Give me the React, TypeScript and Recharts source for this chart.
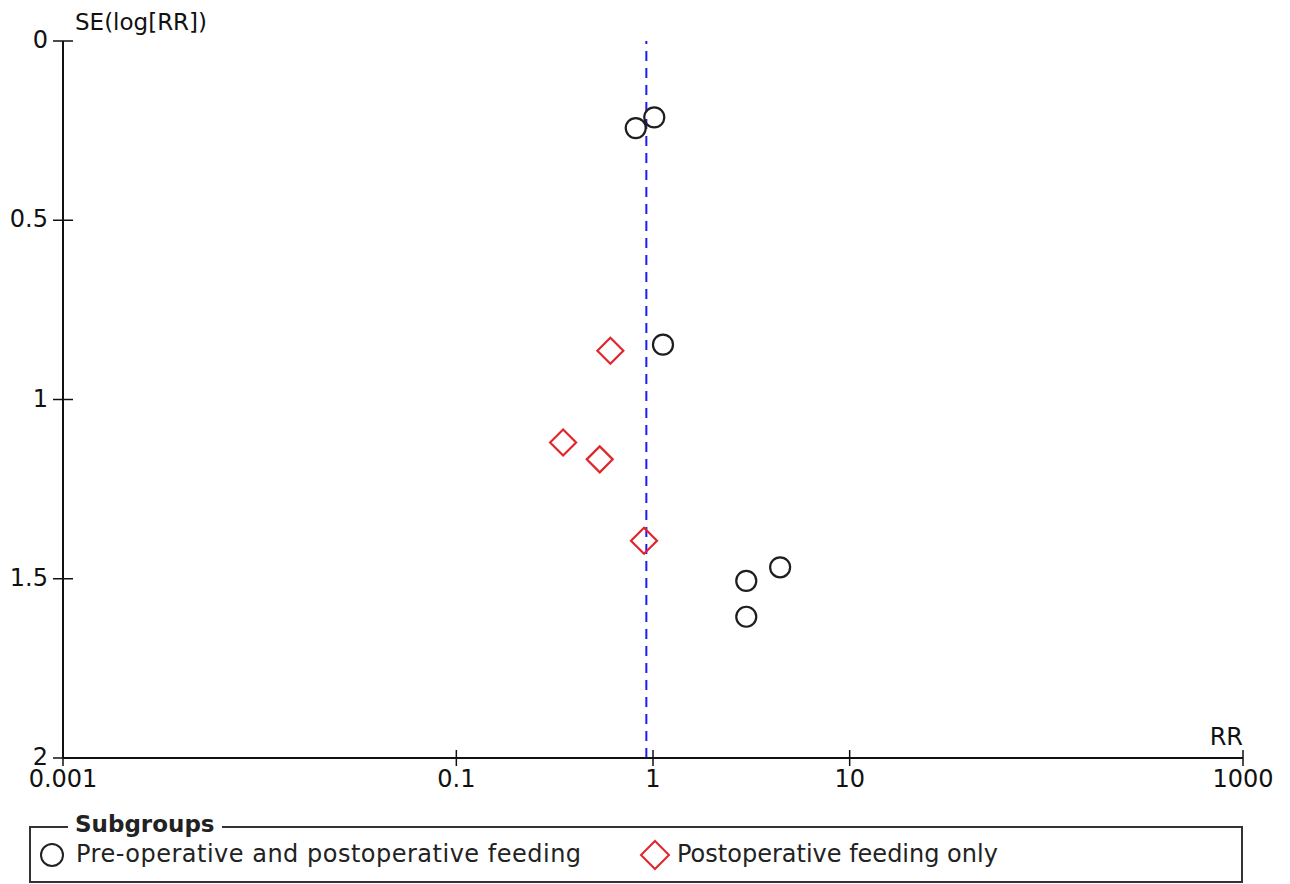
import React from "react";
import { ScatterChart, Scatter, XAxis, YAxis, ReferenceLine } from "recharts";

const FONT = '"DejaVu Sans", Verdana, sans-serif';

// Funnel plot data: risk ratio (x) and SE(log RR) (y)
const preOpRR = [0.817, 1.015, 1.124, 4.43, 2.98, 2.98];
const preOpSE = [0.243, 0.213, 0.847, 1.468, 1.506, 1.606];
const postOpRR = [0.607, 0.349, 0.536, 0.9];
const postOpSE = [0.864, 1.12, 1.167, 1.394];
const pooledRR = 0.925;

const xTicks = [0.001, 0.1, 1, 10, 1000];
const yTicks = [0, 0.5, 1, 1.5, 2];
const groupNames = ["Pre-operative and postoperative feeding", "Postoperative feeding only"];

const preOpData = preOpRR.map((rr, i) => ({ rr, se: preOpSE[i] }));
const postOpData = postOpRR.map((rr, i) => ({ rr, se: postOpSE[i] }));

const XTick = (props: any) => {
  const { x, y, payload } = props;
  return (
    <g>
      <line x1={x} x2={x} y1={y - 8} y2={y + 8} stroke="#111" strokeWidth={1.5} />
      <text x={x} y={y + 29} textAnchor="middle" fontSize={24} fill="#111" fontFamily={FONT}>
        {String(payload.value)}
      </text>
    </g>
  );
};

const YTick = (props: any) => {
  const { x, y, payload } = props;
  return (
    <g>
      <line x1={x - 10} x2={x + 10} y1={y} y2={y} stroke="#111" strokeWidth={1.5} />
      <text x={x - 15} y={y + 7} textAnchor="end" fontSize={24} fill="#111" fontFamily={FONT}>
        {String(payload.value)}
      </text>
    </g>
  );
};

const CircleShape = (props: any) => (
  <circle cx={props.cx} cy={props.cy} r={10} fill="none" stroke="#1e1e1e" strokeWidth={2.2} />
);

const DiamondShape = (props: any) => {
  const { cx, cy } = props;
  const d = 13;
  return (
    <polygon
      points={`${cx},${cy - d} ${cx + d},${cy} ${cx},${cy + d} ${cx - d},${cy}`}
      fill="none"
      stroke="#e2242b"
      strokeWidth={2.2}
    />
  );
};

const SubgroupLegend = () => (
  <svg width={1290} height={884} style={{ position: "absolute", left: 0, top: 0, pointerEvents: "none" }}>
    <path d="M68,827 L30,827 L30,882 L1242,882 L1242,827 L222,827" fill="none" stroke="#333" strokeWidth={2} />
    <text x={75} y={832} fontSize={23} fontWeight="bold" fill="#222" fontFamily={FONT}>
      Subgroups
    </text>
    <circle cx={52} cy={855} r={11} fill="none" stroke="#222" strokeWidth={2} />
    <text x={76} y={862} fontSize={24} fill="#222" fontFamily={FONT} letterSpacing={0.5}>
      {groupNames[0]}
    </text>
    <polygon points="655,841 669,855 655,869 641,855" fill="none" stroke="#e2242b" strokeWidth={2} />
    <text x={677} y={862} fontSize={24} fill="#222" fontFamily={FONT}>
      {groupNames[1]}
    </text>
  </svg>
);

export default function App() {
  return (
    <div style={{ position: "absolute", left: 0, top: 0, width: 1290, height: 884, background: "#fff" }}>
      <ScatterChart width={1290} height={884} margin={{ top: 41, right: 47, bottom: 96, left: 0 }}>
        <XAxis
          type="number"
          dataKey="rr"
          scale="log"
          domain={[0.001, 1000]}
          ticks={xTicks}
          allowDataOverflow
          height={30}
          tickSize={0}
          tickMargin={0}
          tick={<XTick />}
          tickLine={false}
          axisLine={{ stroke: "#111", strokeWidth: 2 }}
        />
        <YAxis
          type="number"
          dataKey="se"
          domain={[0, 2]}
          ticks={yTicks}
          reversed
          allowDataOverflow
          width={63}
          tickSize={0}
          tickMargin={0}
          tick={<YTick />}
          tickLine={false}
          axisLine={{ stroke: "#111", strokeWidth: 2 }}
        />
        <ReferenceLine x={pooledRR} stroke="#1c1cf2" strokeWidth={2} strokeDasharray="10 7" />
        <Scatter name={groupNames[0]} data={preOpData} shape={<CircleShape />} isAnimationActive={false} />
        <Scatter name={groupNames[1]} data={postOpData} shape={<DiamondShape />} isAnimationActive={false} />
        <text x={75} y={30} fontSize={23} fill="#111" fontFamily={FONT}>
          SE(log[RR])
        </text>
        <text x={1243} y={745} fontSize={24} fill="#111" textAnchor="end" fontFamily={FONT}>
          RR
        </text>
      </ScatterChart>
      <SubgroupLegend />
    </div>
  );
}
